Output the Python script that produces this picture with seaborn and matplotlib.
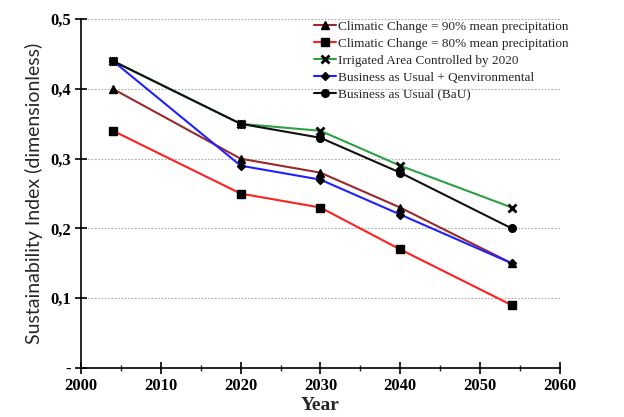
import matplotlib
matplotlib.use("Agg")
import matplotlib.pyplot as plt
import seaborn as sns
import pandas as pd
from matplotlib.ticker import MultipleLocator, FuncFormatter

years = [2004, 2020, 2030, 2040, 2054]
cc90 = [0.40, 0.30, 0.28, 0.23, 0.15]
cc80 = [0.34, 0.25, 0.23, 0.17, 0.09]
irrigated = [0.44, 0.35, 0.34, 0.29, 0.23]
bau_qenv = [0.44, 0.29, 0.27, 0.22, 0.15]
bau = [0.44, 0.35, 0.33, 0.28, 0.20]

labels = ["Climatic Change = 90% mean precipitation",
          "Climatic Change = 80% mean precipitation",
          "Irrigated Area Controlled by 2020",
          "Business as Usual + Qenvironmental",
          "Business as Usual (BaU)"]
series = [cc90, cc80, irrigated, bau_qenv, bau]

rows = []
for lab, vals in zip(labels, series):
    for y, v in zip(years, vals):
        rows.append({"Year": y, "Index": v, "Scenario": lab})
df = pd.DataFrame(rows)

sns.set_theme(style="white")
plt.rcParams['font.family'] = ['Liberation Serif', 'DejaVu Serif']

colors = ["#9a2a2a", "#ff2020", "#2ea043", "#2020ff", "#111111"]
markers = ["^", "s", "x", "D", "o"]
msizes = [5.5, 5.5, 6, 4.5, 5.5]
medges = [1.0, 1.0, 2.0, 1.0, 1.0]

fig = plt.figure(figsize=(6.24, 4.17), dpi=100)
ax = fig.add_axes([0.130, 0.1175, 0.767, 0.8365])

for lab, col, mk, ms, me in zip(labels, colors, markers, msizes, medges):
    sub = df[df["Scenario"] == lab]
    sns.lineplot(data=sub, x="Year", y="Index", ax=ax, color=col, lw=1.5,
                 marker=mk, markersize=ms, markerfacecolor="black",
                 markeredgecolor="black", markeredgewidth=me,
                 label=lab, legend=False)

ax.set_xlim(2000, 2060)
ax.set_ylim(0, 0.5)
ax.xaxis.set_major_locator(MultipleLocator(10))
ax.xaxis.set_minor_locator(MultipleLocator(5))
ax.yaxis.set_major_locator(MultipleLocator(0.1))

def yfmt(v, pos):
    if abs(v) < 1e-9:
        return "-"
    return ("%.1f" % v).replace(".", ",")
ax.yaxis.set_major_formatter(FuncFormatter(yfmt))

for yv in [0.1, 0.2, 0.3, 0.4, 0.5]:
    ax.axhline(yv, color="#aaaaaa", lw=0.8, ls=(0, (1.5, 1.5)), zorder=0)

for s in ["top", "right"]:
    ax.spines[s].set_visible(False)
for s in ["left", "bottom"]:
    ax.spines[s].set_color("black")
    ax.spines[s].set_linewidth(1.2)

ax.tick_params(axis="both", which="major", direction="inout", length=8, width=1.2,
               colors="black", labelsize=12, left=True, bottom=True)
ax.tick_params(axis="x", which="minor", direction="inout", length=5, width=1.0,
               bottom=True)
for t in ax.get_xticklabels() + ax.get_yticklabels():
    t.set_fontweight("bold")

ax.set_xlabel("Year", fontsize=14, fontweight="bold", labelpad=2)
ax.set_ylabel("Sustainability Index (dimensionless)", fontsize=14, labelpad=5,
              family=["Lato", "DejaVu Sans"])

ax.legend(loc="upper right", bbox_to_anchor=(1.035, 1.018), frameon=False,
          fontsize=9.5, handlelength=1.7, handletextpad=0.15, labelspacing=0.35,
          borderaxespad=0.2)

fig.savefig("out.png", dpi=100)
